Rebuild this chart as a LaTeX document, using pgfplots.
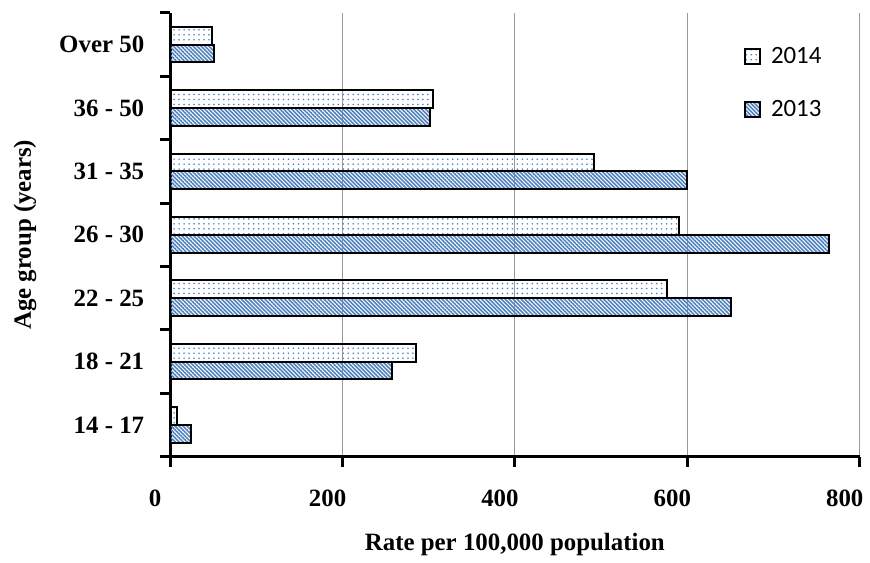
\documentclass[border=0pt]{standalone}
\usepackage{pgfplots}
\pgfplotsset{compat=1.18}
\usepackage{fontspec}
\setmainfont{Liberation Serif}
\newfontfamily\legfont{Carlito}
\usetikzlibrary{patterns.meta}
\definecolor{pblue}{RGB}{79,129,189}
\pgfplotstableread{
y v2014 v2013
0 8 24
1 285 257
2 576 651
3 590 764
4 492 600
5 305 302
6 48 51
}\datatable
\begin{document}
\begin{tikzpicture}
\begin{axis}[
  name=ax,
  scale only axis,
  width=346.5pt, height=223pt,
  xmin=0, xmax=800,
  ymin=-0.5, ymax=6.5,
  axis x line=bottom, axis y line=left,
  axis line style={line width=1.5pt,-},
  xtick={0,200,400,600,800},
  ytick={0,...,6},
  yticklabels={14 - 17,18 - 21,22 - 25,26 - 30,31 - 35,36 - 50,Over 50},
  minor ytick={-0.5,0.5,...,6.5},
  major y tick style={draw=none},
  minor y tick style={line width=1.5pt,black},
  major x tick style={line width=1.5pt,black},
  tick align=outside,
  major tick length=5pt, minor tick length=5pt,
  xmajorgrids, grid style={gray!80, line width=0.5pt},
  /pgf/number format/assume math mode=true,
  ticklabel style={font=\fontsize{12.5}{14}\selectfont\bfseries},
  xticklabel style={anchor=center, yshift=-16pt, xshift=-7.5pt},
  yticklabel style={xshift=-4.5pt},
  xlabel={Rate per 100,000 population},
  ylabel={Age group (years)},
  label style={font=\fontsize{12.5}{14}\selectfont\bfseries},
  xlabel style={at={(rel axis cs:0.5,0)}, anchor=center, yshift=-44pt},
  ylabel style={at={(rel axis cs:0,0.5)}, anchor=center, yshift=73pt},
  legend style={draw=none, fill=none, inner sep=0pt, font=\legfont\fontsize{12.5}{15}\selectfont,
    at={(rel axis cs:1,1)}, xshift=-17pt, yshift=-15pt, anchor=north east, row sep=13pt,
    legend cell align=left},
  legend image code/.code={\draw[#1, line width=1pt] (0pt,-3.75pt) rectangle (7.5pt,3.75pt);},
]
\addplot[xbar, bar width=0.28, bar shift=0.14, draw=black, line width=1pt,
  pattern={Dots[distance=2.5pt, radius=0.45pt]}, pattern color=pblue]
  table[x=v2014, y=y] {\datatable};
\addlegendentry{\hspace{3pt}2014}
\addplot[xbar, bar width=0.28, bar shift=-0.14, draw=black, line width=1pt,
  pattern={Lines[angle=-45, distance=1.4pt, line width=0.8pt]}, pattern color=pblue]
  table[x=v2013, y=y] {\datatable};
\addlegendentry{\hspace{3pt}2013}
\end{axis}
\path (ax.south west) +(-85.5pt,-52pt) (ax.north east) +(3pt,6.5pt);
\end{tikzpicture}
\end{document}
